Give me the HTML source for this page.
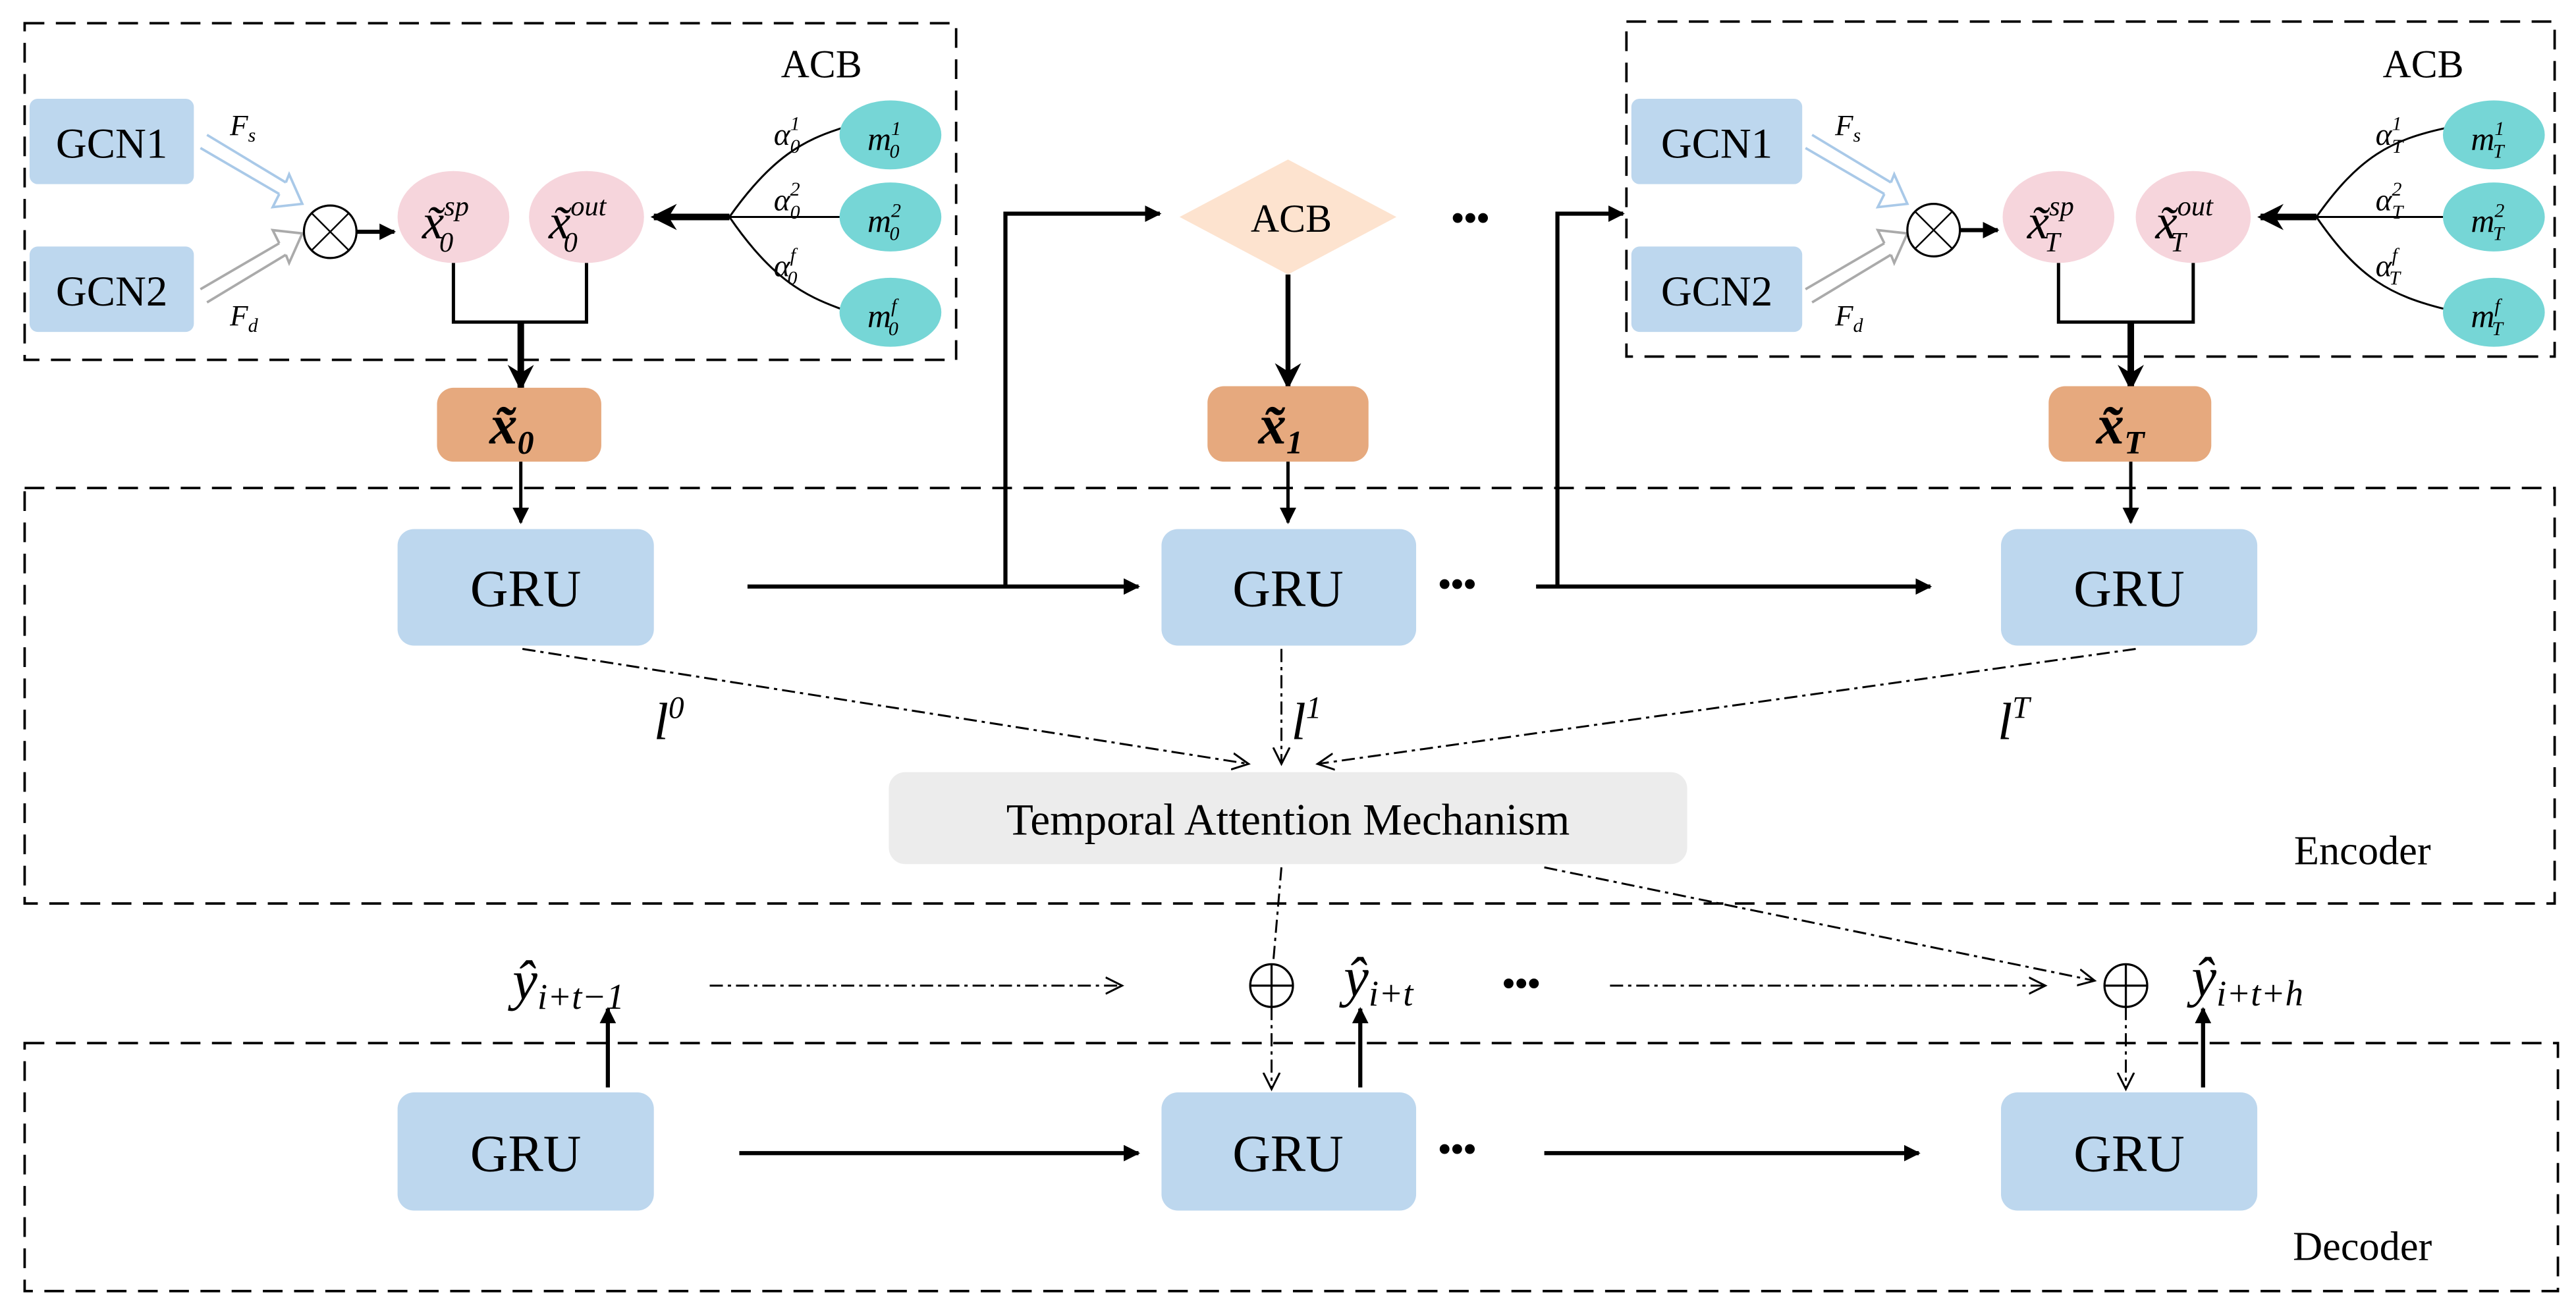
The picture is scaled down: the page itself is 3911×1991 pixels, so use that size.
<!DOCTYPE html>
<html><head><meta charset="utf-8"><style>html,body{margin:0;padding:0;background:#fff}svg{display:block}text{font-family:"Liberation Serif",serif}</style></head><body>
<svg width="3911" height="1991" viewBox="0 0 1568 798" xmlns="http://www.w3.org/2000/svg">
<defs>
<marker id="a" markerWidth="10" markerHeight="10" refX="9" refY="5" orient="auto" markerUnits="userSpaceOnUse"><path d="M0,0 L10,5 L0,10 z" fill="#000"/></marker>
<marker id="ab" markerWidth="16" markerHeight="16" refX="14" refY="8" orient="auto" markerUnits="userSpaceOnUse"><path d="M0,0 L16,8 L0,16 L5,8 z" fill="#000"/></marker>
<marker id="ao" markerWidth="12" markerHeight="12" refX="10" refY="6" orient="auto" markerUnits="userSpaceOnUse"><path d="M0,1 L10,6 L0,11" fill="none" stroke="#000" stroke-width="1.2"/></marker>
</defs>
<g fill="none" stroke="#000" stroke-width="1.5" stroke-dasharray="12,7">
<rect x="15" y="14" width="567" height="205"/>
<rect x="990" y="13" width="565" height="204"/>
<rect x="15" y="297" width="1540" height="253"/>
<rect x="15" y="635" width="1542" height="151"/>
</g>
<g>
<rect x="18" y="60" width="100" height="52" rx="5" fill="#bdd7ee"/>
<rect x="18" y="150" width="100" height="52" rx="5" fill="#bdd7ee"/>
<text x="68" y="96" font-size="26" text-anchor="middle">GCN1</text>
<text x="68" y="186" font-size="26" text-anchor="middle">GCN2</text>
<text x="140" y="82" font-size="18" font-style="italic">F<tspan font-size="12" dy="4">s</tspan></text>
<text x="140" y="198" font-size="18" font-style="italic">F<tspan font-size="12" dy="4">d</tspan></text>
<path d="M122,90 L170,118 M126,82 L174,111 M170,118 L166,126 L184,124 L176,106 L174,111" fill="none" stroke="#a9c9e8" stroke-width="1.5"/>
<path d="M122,176 L170,148 M126,184 L174,155 M170,148 L166,140 L184,142 L176,160 L174,155" fill="none" stroke="#aaa" stroke-width="1.5"/>
<circle cx="201" cy="141" r="16" fill="#fff" stroke="#000" stroke-width="1.3"/>
<path d="M190,130 L212,152 M212,130 L190,152" stroke="#000" stroke-width="1"/>
<line x1="217" y1="141" x2="240" y2="141" stroke="#000" stroke-width="2.5" marker-end="url(#a)"/>
<ellipse cx="276" cy="132" rx="34" ry="28" fill="#f6d5dc"/>
<ellipse cx="357" cy="132" rx="35" ry="28" fill="#f6d5dc"/>
<text x="257" y="145" font-size="30" font-style="italic">x̃<tspan font-size="17" dy="-14">sp</tspan><tspan font-size="17" dx="-18" dy="22">0</tspan></text>
<text x="334" y="145" font-size="30" font-style="italic">x̃<tspan font-size="17" dy="-14">out</tspan><tspan font-size="17" dx="-26" dy="22">0</tspan></text>
<path d="M444,132 C470,95 490,85 512,78 M444,132 L512,132 M444,132 C470,170 490,180 512,188" fill="none" stroke="#000" stroke-width="1.2"/>
<line x1="444" y1="132" x2="398" y2="132" stroke="#000" stroke-width="4" marker-end="url(#ab)"/>
<ellipse cx="542" cy="82" rx="31" ry="21" fill="#76d6d6"/>
<ellipse cx="542" cy="132" rx="31" ry="21" fill="#76d6d6"/>
<ellipse cx="542" cy="190" rx="31" ry="21" fill="#76d6d6"/>
<text x="528" y="91" font-size="20" font-style="italic">m<tspan font-size="12" dy="-9">1</tspan><tspan font-size="12" dx="-7" dy="14">0</tspan></text>
<text x="528" y="141" font-size="20" font-style="italic">m<tspan font-size="12" dy="-9">2</tspan><tspan font-size="12" dx="-7" dy="14">0</tspan></text>
<text x="528" y="199" font-size="20" font-style="italic">m<tspan font-size="12" dy="-9">f</tspan><tspan font-size="12" dx="-5" dy="14">0</tspan></text>
<text x="471" y="88" font-size="19" font-style="italic">α<tspan font-size="12" dy="-9">1</tspan><tspan font-size="12" dx="-6" dy="14">0</tspan></text>
<text x="471" y="128" font-size="19" font-style="italic">α<tspan font-size="12" dy="-9">2</tspan><tspan font-size="12" dx="-6" dy="14">0</tspan></text>
<text x="471" y="168" font-size="19" font-style="italic">α<tspan font-size="12" dy="-9">f</tspan><tspan font-size="12" dx="-5" dy="14">0</tspan></text>
<text x="500" y="47" font-size="24" text-anchor="middle">ACB</text>
<path d="M276,160 L276,196 L357,196 L357,160" fill="none" stroke="#000" stroke-width="2"/>
<line x1="317" y1="196" x2="317" y2="236" stroke="#000" stroke-width="4" marker-end="url(#ab)"/>
</g>
<g>
<rect x="993" y="60" width="104" height="52" rx="5" fill="#bdd7ee"/>
<rect x="993" y="150" width="104" height="52" rx="5" fill="#bdd7ee"/>
<text x="1045" y="96" font-size="26" text-anchor="middle">GCN1</text>
<text x="1045" y="186" font-size="26" text-anchor="middle">GCN2</text>
<text x="1117" y="82" font-size="18" font-style="italic">F<tspan font-size="12" dy="4">s</tspan></text>
<text x="1117" y="198" font-size="18" font-style="italic">F<tspan font-size="12" dy="4">d</tspan></text>
<path d="M1099,90 L1147,118 M1103,82 L1151,111 M1147,118 L1143,126 L1161,124 L1153,106 L1151,111" fill="none" stroke="#a9c9e8" stroke-width="1.5"/>
<path d="M1099,176 L1147,148 M1103,184 L1151,155 M1147,148 L1143,140 L1161,142 L1153,160 L1151,155" fill="none" stroke="#aaa" stroke-width="1.5"/>
<circle cx="1177" cy="140" r="16" fill="#fff" stroke="#000" stroke-width="1.3"/>
<path d="M1166,129 L1188,151 M1188,129 L1166,151" stroke="#000" stroke-width="1"/>
<line x1="1193" y1="140" x2="1216" y2="140" stroke="#000" stroke-width="2.5" marker-end="url(#a)"/>
<ellipse cx="1253" cy="132" rx="34" ry="28" fill="#f6d5dc"/>
<ellipse cx="1335" cy="132" rx="35" ry="28" fill="#f6d5dc"/>
<text x="1234" y="145" font-size="30" font-style="italic">x̃<tspan font-size="17" dy="-14">sp</tspan><tspan font-size="17" dx="-18" dy="22">T</tspan></text>
<text x="1312" y="145" font-size="30" font-style="italic">x̃<tspan font-size="17" dy="-14">out</tspan><tspan font-size="17" dx="-26" dy="22">T</tspan></text>
<path d="M1410,132 C1436,95 1456,85 1488,78 M1410,132 L1488,132 M1410,132 C1436,170 1456,180 1488,188" fill="none" stroke="#000" stroke-width="1.2"/>
<line x1="1410" y1="132" x2="1376" y2="132" stroke="#000" stroke-width="4" marker-end="url(#ab)"/>
<ellipse cx="1518" cy="82" rx="31" ry="21" fill="#76d6d6"/>
<ellipse cx="1518" cy="132" rx="31" ry="21" fill="#76d6d6"/>
<ellipse cx="1518" cy="190" rx="31" ry="21" fill="#76d6d6"/>
<text x="1504" y="91" font-size="20" font-style="italic">m<tspan font-size="12" dy="-9">1</tspan><tspan font-size="12" dx="-7" dy="14">T</tspan></text>
<text x="1504" y="141" font-size="20" font-style="italic">m<tspan font-size="12" dy="-9">2</tspan><tspan font-size="12" dx="-7" dy="14">T</tspan></text>
<text x="1504" y="199" font-size="20" font-style="italic">m<tspan font-size="12" dy="-9">f</tspan><tspan font-size="12" dx="-5" dy="14">T</tspan></text>
<text x="1446" y="88" font-size="19" font-style="italic">α<tspan font-size="12" dy="-9">1</tspan><tspan font-size="12" dx="-6" dy="14">T</tspan></text>
<text x="1446" y="128" font-size="19" font-style="italic">α<tspan font-size="12" dy="-9">2</tspan><tspan font-size="12" dx="-6" dy="14">T</tspan></text>
<text x="1446" y="168" font-size="19" font-style="italic">α<tspan font-size="12" dy="-9">f</tspan><tspan font-size="12" dx="-5" dy="14">T</tspan></text>
<text x="1475" y="47" font-size="24" text-anchor="middle">ACB</text>
<path d="M1253,160 L1253,196 L1335,196 L1335,160" fill="none" stroke="#000" stroke-width="2"/>
<line x1="1297" y1="196" x2="1297" y2="236" stroke="#000" stroke-width="4" marker-end="url(#ab)"/>
</g>
<path d="M718,132 L784,97 L850,132 L784,167 z" fill="#fde3cf"/>
<text x="786" y="141" font-size="24" text-anchor="middle">ACB</text>
<line x1="784" y1="167" x2="784" y2="235" stroke="#000" stroke-width="3" marker-end="url(#ab)"/>
<text x="895" y="140" font-size="22" text-anchor="middle" font-weight="bold">•••</text>
<rect x="266" y="236" width="100" height="45" rx="10" fill="#e6a97e"/>
<rect x="735" y="235" width="98" height="46" rx="10" fill="#e6a97e"/>
<rect x="1247" y="235" width="99" height="46" rx="10" fill="#e6a97e"/>
<text x="298" y="270" font-size="34" font-style="italic" font-weight="bold">x̃<tspan font-size="20" dy="6">0</tspan></text>
<text x="766" y="270" font-size="34" font-style="italic" font-weight="bold">x̃<tspan font-size="20" dy="6">1</tspan></text>
<text x="1276" y="270" font-size="34" font-style="italic" font-weight="bold">x̃<tspan font-size="20" dy="6">T</tspan></text>
<g stroke="#000" stroke-width="2" fill="none">
<line x1="317" y1="281" x2="317" y2="318" marker-end="url(#a)"/>
<line x1="784" y1="281" x2="784" y2="318" marker-end="url(#a)"/>
<line x1="1297" y1="281" x2="1297" y2="318" marker-end="url(#a)"/>
<line x1="455" y1="357" x2="693" y2="357" stroke-width="2.5" marker-end="url(#a)"/>
<path d="M612,357 L612,130 L706,130" stroke-width="2.5" marker-end="url(#a)"/>
<line x1="935" y1="357" x2="1175" y2="357" stroke-width="2.5" marker-end="url(#a)"/>
<path d="M948,357 L948,130 L988,130" stroke-width="2.5" marker-end="url(#a)"/>
<line x1="450" y1="702" x2="693" y2="702" stroke-width="2.5" marker-end="url(#a)"/>
<line x1="940" y1="702" x2="1168" y2="702" stroke-width="2.5" marker-end="url(#a)"/>
<line x1="370" y1="662" x2="370" y2="614" stroke-width="2.5" marker-end="url(#a)"/>
<line x1="828" y1="662" x2="828" y2="614" stroke-width="2.5" marker-end="url(#a)"/>
<line x1="1341" y1="662" x2="1341" y2="614" stroke-width="2.5" marker-end="url(#a)"/>
</g>
<g fill="#bdd7ee">
<rect x="242" y="322" width="156" height="71" rx="10"/>
<rect x="707" y="322" width="155" height="71" rx="10"/>
<rect x="1218" y="322" width="156" height="71" rx="10"/>
<rect x="242" y="665" width="156" height="72" rx="10"/>
<rect x="707" y="665" width="155" height="72" rx="10"/>
<rect x="1218" y="665" width="156" height="72" rx="10"/>
</g>
<g font-size="32" text-anchor="middle">
<text x="320" y="369">GRU</text><text x="784" y="369">GRU</text><text x="1296" y="369">GRU</text>
<text x="320" y="713">GRU</text><text x="784" y="713">GRU</text><text x="1296" y="713">GRU</text>
</g>
<g font-size="22" font-weight="bold" text-anchor="middle">
<text x="887" y="363">•••</text><text x="887" y="707">•••</text><text x="926" y="606">•••</text>
</g>
<g stroke="#000" stroke-width="1.2" fill="none" stroke-dasharray="8,3,2,3">
<line x1="318" y1="395" x2="760" y2="465" marker-end="url(#ao)"/>
<line x1="780" y1="395" x2="780" y2="465" marker-end="url(#ao)"/>
<line x1="1300" y1="395" x2="802" y2="465" marker-end="url(#ao)"/>
<line x1="780" y1="528" x2="775" y2="586"/>
<line x1="940" y1="528" x2="1275" y2="597" marker-end="url(#ao)"/>
<line x1="432" y1="600" x2="683" y2="600" marker-end="url(#ao)"/>
<line x1="980" y1="600" x2="1245" y2="600" marker-end="url(#ao)"/>
<line x1="774" y1="613" x2="774" y2="663" marker-end="url(#ao)"/>
<line x1="1294" y1="613" x2="1294" y2="663" marker-end="url(#ao)"/>
</g>
<text x="398" y="450" font-size="32" font-style="italic">l<tspan font-size="19" dy="-13">0</tspan></text>
<text x="786" y="450" font-size="32" font-style="italic">l<tspan font-size="19" dy="-13">1</tspan></text>
<text x="1216" y="450" font-size="32" font-style="italic">l<tspan font-size="19" dy="-13">T</tspan></text>
<rect x="541" y="470" width="486" height="56" rx="10" fill="#ececec"/>
<text x="784" y="508" font-size="27" text-anchor="middle">Temporal Attention Mechanism</text>
<text x="1438" y="526" font-size="25" text-anchor="middle">Encoder</text>
<text x="1438" y="767" font-size="25" text-anchor="middle">Decoder</text>
<g fill="#fff" stroke="#000" stroke-width="1.3">
<circle cx="774" cy="600" r="13"/><circle cx="1294" cy="600" r="13"/>
</g>
<path d="M761,600 L787,600 M774,587 L774,613 M1281,600 L1307,600 M1294,587 L1294,613" stroke="#000" stroke-width="1.3"/>
<text x="312" y="608" font-size="34" font-style="italic">ŷ<tspan font-size="22" dy="6">i+t−1</tspan></text>
<text x="818" y="606" font-size="34" font-style="italic">ŷ<tspan font-size="22" dy="6">i+t</tspan></text>
<text x="1334" y="606" font-size="34" font-style="italic">ŷ<tspan font-size="22" dy="6">i+t+h</tspan></text>
</svg>
</body></html>
